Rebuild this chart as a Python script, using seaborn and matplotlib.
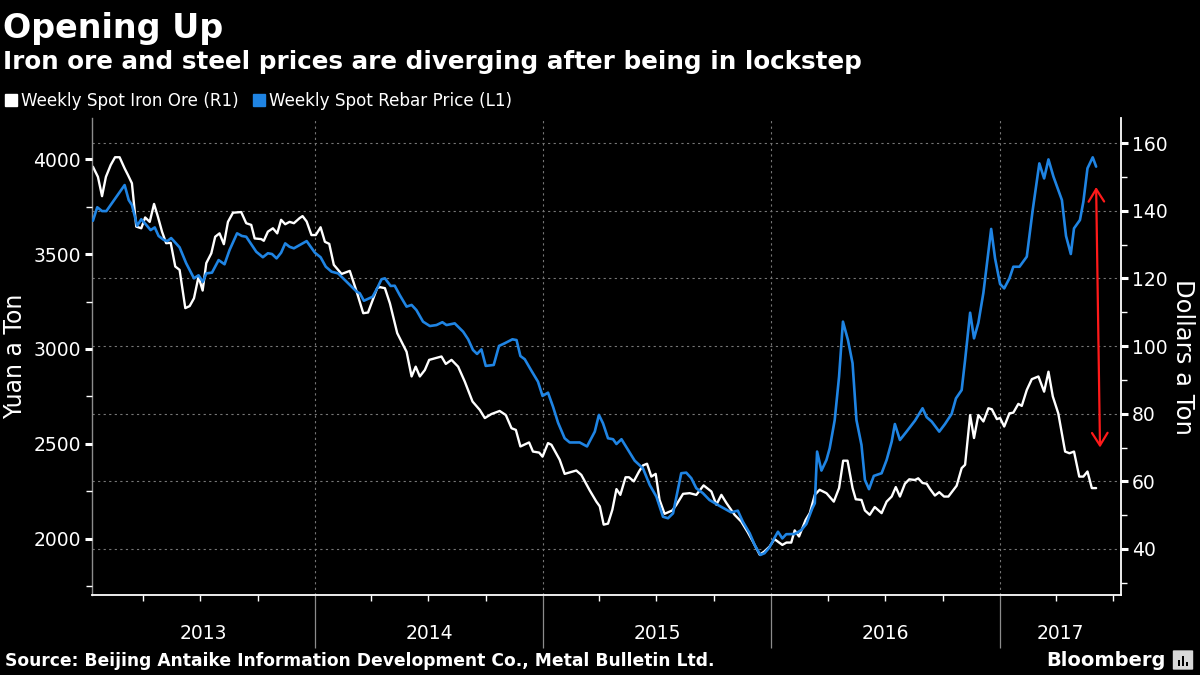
import pandas as pd
import numpy as np
import matplotlib
matplotlib.use('Agg')
import matplotlib.pyplot as plt
import matplotlib.dates as mdates
from matplotlib.lines import Line2D
from matplotlib.patches import FancyBboxPatch, Rectangle
from matplotlib.transforms import blended_transform_factory
import seaborn as sns

# positions
iron_t = [2013.026, 2013.048, 2013.066, 2013.083, 2013.104, 2013.123, 2013.143, 2013.165, 2013.180, 2013.197,
          2013.216, 2013.238, 2013.255, 2013.275, 2013.294, 2013.311, 2013.329, 2013.347, 2013.367, 2013.387,
          2013.406, 2013.431, 2013.450, 2013.469, 2013.489, 2013.507, 2013.523, 2013.545, 2013.562, 2013.581,
          2013.600, 2013.618, 2013.640, 2013.676, 2013.698, 2013.720, 2013.735, 2013.764, 2013.775, 2013.793,
          2013.815, 2013.834, 2013.851, 2013.869, 2013.888, 2013.907, 2013.932, 2013.945, 2013.963, 2013.984,
          2014.003, 2014.024, 2014.043, 2014.062, 2014.082, 2014.116, 2014.152, 2014.182, 2014.211, 2014.232,
          2014.272, 2014.284, 2014.306, 2014.328, 2014.360, 2014.401, 2014.423, 2014.441, 2014.459, 2014.481,
          2014.500, 2014.554, 2014.573, 2014.598, 2014.627, 2014.656, 2014.690, 2014.722, 2014.744, 2014.773,
          2014.809, 2014.836, 2014.861, 2014.880, 2014.900, 2014.938, 2014.955, 2014.982, 2014.997, 2015.021,
          2015.036, 2015.072, 2015.094, 2015.145, 2015.167, 2015.204, 2015.233, 2015.248, 2015.265, 2015.284,
          2015.303, 2015.321, 2015.338, 2015.361, 2015.376, 2015.397, 2015.420, 2015.437, 2015.455, 2015.474,
          2015.493, 2015.510, 2015.532, 2015.566, 2015.584, 2015.613, 2015.642, 2015.671, 2015.703, 2015.737,
          2015.759, 2015.781, 2015.803, 2015.839, 2015.868, 2015.897, 2015.919, 2015.949, 2015.970, 2015.992,
          2016.014, 2016.048, 2016.066, 2016.087, 2016.102, 2016.121, 2016.150, 2016.168, 2016.190, 2016.211,
          2016.241, 2016.273, 2016.296, 2016.314, 2016.333, 2016.355, 2016.369, 2016.394, 2016.409, 2016.430,
          2016.452, 2016.482, 2016.504, 2016.526, 2016.544, 2016.562, 2016.584, 2016.603, 2016.628, 2016.642,
          2016.661, 2016.679, 2016.693, 2016.715, 2016.734, 2016.755, 2016.774, 2016.810, 2016.832, 2016.847,
          2016.869, 2016.886, 2016.905, 2016.927, 2016.949, 2016.964, 2016.986, 2017.000, 2017.018, 2017.041,
          2017.058, 2017.080, 2017.095, 2017.117, 2017.139, 2017.168, 2017.193, 2017.212, 2017.231, 2017.255,
          2017.285, 2017.304, 2017.324, 2017.347, 2017.365, 2017.383, 2017.402, 2017.421]
iron_usd = [153.0, 150.0, 144.3, 150.0, 153.5, 155.8, 155.8, 152.5, 150.5, 148.1,
            135.3, 134.8, 138.0, 136.7, 142.0, 138.2, 133.8, 130.4, 130.5, 123.5,
            122.5, 111.2, 111.8, 114.1, 120.5, 116.4, 124.5, 127.4, 132.3, 133.3,
            130.1, 136.7, 139.4, 139.6, 136.3, 135.8, 131.8, 131.6, 131.1, 133.8,
            134.8, 133.3, 137.3, 136.0, 136.7, 136.3, 137.8, 138.4, 136.8, 132.8,
            132.8, 135.1, 130.8, 130.2, 124.0, 121.3, 122.2, 116.1, 109.7, 109.9,
            117.1, 117.4, 117.1, 112.6, 103.8, 98.3, 91.0, 93.9, 91.0, 92.9,
            95.9, 96.9, 94.7, 95.9, 93.9, 89.5, 83.6, 81.1, 78.7, 79.9,
            80.8, 79.6, 75.7, 75.2, 70.3, 71.5, 68.8, 68.5, 67.3, 71.3,
            70.8, 66.4, 62.2, 63.2, 61.9, 57.3, 54.0, 52.6, 47.2, 47.5,
            51.6, 57.7, 56.0, 61.2, 61.2, 60.0, 62.9, 64.7, 65.2, 61.4,
            62.2, 54.5, 50.4, 51.4, 53.1, 56.3, 56.5, 56.0, 58.8, 57.0,
            53.1, 56.0, 53.6, 50.1, 48.1, 44.9, 42.2, 38.3, 39.3, 40.7,
            42.9, 41.2, 41.9, 41.9, 45.5, 43.7, 48.6, 50.6, 56.0, 57.5,
            56.5, 54.0, 58.0, 66.1, 66.1, 58.0, 54.7, 54.5, 51.4, 50.1,
            52.4, 50.6, 54.0, 55.5, 58.3, 55.5, 59.3, 60.6, 60.4, 60.9,
            59.5, 59.3, 57.8, 55.8, 56.8, 55.5, 55.5, 58.7, 63.9, 64.9,
            79.6, 72.8, 79.6, 77.7, 81.6, 81.3, 78.4, 78.7, 76.2, 80.1,
            80.3, 82.9, 82.3, 87.0, 90.2, 91.0, 86.5, 92.4, 85.1, 80.1,
            68.8, 68.3, 68.8, 61.4, 61.4, 62.9, 58.0, 58.0]

rebar_t = [2013.026, 2013.045, 2013.066, 2013.085, 2013.165, 2013.183, 2013.197, 2013.220, 2013.238, 2013.260,
           2013.279, 2013.297, 2013.314, 2013.337, 2013.352, 2013.369, 2013.387, 2013.406, 2013.435, 2013.469,
           2013.489, 2013.508, 2013.523, 2013.548, 2013.577, 2013.603, 2013.625, 2013.658, 2013.679, 2013.698,
           2013.742, 2013.771, 2013.793, 2013.811, 2013.831, 2013.851, 2013.869, 2013.888, 2013.907, 2013.963,
           2013.999, 2014.024, 2014.047, 2014.072, 2014.101, 2014.145, 2014.182, 2014.196, 2014.214, 2014.252,
           2014.272, 2014.291, 2014.306, 2014.331, 2014.349, 2014.371, 2014.401, 2014.423, 2014.444, 2014.473,
           2014.503, 2014.532, 2014.558, 2014.576, 2014.612, 2014.649, 2014.671, 2014.692, 2014.710, 2014.729,
           2014.748, 2014.783, 2014.806, 2014.831, 2014.865, 2014.883, 2014.900, 2014.919, 2014.948, 2014.977,
           2014.997, 2015.021, 2015.043, 2015.065, 2015.094, 2015.116, 2015.160, 2015.192, 2015.226, 2015.244,
           2015.262, 2015.284, 2015.306, 2015.321, 2015.343, 2015.372, 2015.401, 2015.437, 2015.467, 2015.496,
           2015.525, 2015.547, 2015.569, 2015.605, 2015.627, 2015.649, 2015.671, 2015.700, 2015.729, 2015.773,
           2015.824, 2015.853, 2015.875, 2015.905, 2015.927, 2015.952, 2015.970, 2015.992, 2016.010, 2016.029,
           2016.048, 2016.065, 2016.102, 2016.131, 2016.153, 2016.179, 2016.190, 2016.200, 2016.219, 2016.241,
           2016.255, 2016.277, 2016.296, 2016.313, 2016.335, 2016.355, 2016.372, 2016.394, 2016.409, 2016.427,
           2016.448, 2016.482, 2016.504, 2016.526, 2016.540, 2016.562, 2016.591, 2016.628, 2016.661, 2016.679,
           2016.701, 2016.734, 2016.759, 2016.788, 2016.807, 2016.832, 2016.847, 2016.869, 2016.886, 2016.905,
           2016.927, 2016.961, 2016.978, 2017.000, 2017.018, 2017.041, 2017.058, 2017.085, 2017.117, 2017.143,
           2017.172, 2017.193, 2017.212, 2017.234, 2017.271, 2017.289, 2017.310, 2017.324, 2017.350, 2017.365,
           2017.383, 2017.406, 2017.421]
rebar_cny = [3675, 3746, 3726, 3726, 3863, 3784, 3758, 3649, 3683, 3653,
             3626, 3640, 3595, 3574, 3568, 3584, 3560, 3535, 3451, 3372,
             3388, 3354, 3398, 3402, 3468, 3446, 3521, 3609, 3595, 3591,
             3512, 3483, 3504, 3500, 3477, 3507, 3556, 3538, 3530, 3568,
             3507, 3483, 3433, 3407, 3398, 3346, 3302, 3293, 3254, 3275,
             3319, 3367, 3372, 3332, 3333, 3284, 3223, 3232, 3205, 3144,
             3121, 3126, 3141, 3126, 3135, 3091, 3051, 2995, 2974, 2998,
             2911, 2916, 3016, 3030, 3051, 3047, 2963, 2946, 2886, 2828,
             2753, 2770, 2696, 2612, 2530, 2508, 2508, 2487, 2565, 2653,
             2609, 2530, 2525, 2500, 2525, 2468, 2412, 2372, 2284, 2223,
             2117, 2109, 2135, 2346, 2349, 2320, 2267, 2241, 2205, 2174,
             2140, 2149, 2091, 2030, 1968, 1916, 1925, 1956, 1998, 2038,
             2003, 2025, 2026, 2047, 2079, 2161, 2188, 2460, 2360, 2416,
             2477, 2626, 2854, 3144, 3047, 2925, 2626, 2495, 2311, 2262,
             2332, 2346, 2416, 2512, 2605, 2521, 2565, 2623, 2688, 2641,
             2618, 2565, 2605, 2658, 2740, 2784, 2942, 3191, 3056, 3138,
             3296, 3632, 3477, 3342, 3319, 3372, 3433, 3433, 3486, 3732,
             3977, 3898, 3998, 3907, 3784, 3595, 3500, 3635, 3679, 3775,
             3951, 4009, 3960]

years = [2013, 2014, 2015, 2016, 2017]
left_ticks = [2000, 2500, 3000, 3500, 4000]
right_ticks = [40, 60, 80, 100, 120, 140, 160]

# red double arrow marking the gap at the end (decimal year, $/t)
arrow_top = (2017.421, 147)
arrow_bottom = (2017.438, 70)

BLUE = '#1f84e3'
GRID = '#767676'


def to_date(t):
    y = int(t)
    start = pd.Timestamp(year=y, month=1, day=1)
    end = pd.Timestamp(year=y + 1, month=1, day=1)
    return start + (end - start) * (t - y)


iron = pd.DataFrame({'date': [to_date(t) for t in iron_t], 'usd': iron_usd})
rebar = pd.DataFrame({'date': [to_date(t) for t in rebar_t], 'cny': rebar_cny})

sns.set_theme(style='dark', rc={'axes.facecolor': 'black', 'figure.facecolor': 'black',
                                'text.color': 'white', 'xtick.color': 'white', 'ytick.color': 'white',
                                'axes.labelcolor': 'white'})
plt.rcParams['font.family'] = ['DejaVu Sans']

fig = plt.figure(figsize=(12, 6.75), dpi=100)
ax = fig.add_axes([92 / 1200, 1 - 595 / 675, (1121 - 92) / 1200, (595 - 118) / 675])
ax2 = ax.twinx()

# iron ore in dollars on the main axes (right side), rebar in yuan on the twin (left side)
sns.lineplot(data=iron, x='date', y='usd', ax=ax, color='white', lw=1.7, estimator=None)
sns.lineplot(data=rebar, x='date', y='cny', ax=ax2, color=BLUE, lw=1.9, estimator=None)

xlo, xhi = to_date(2013.022), to_date(2017.530)
ax.set_xlim(xlo, xhi)
ax.set_ylim(26.4, 167.4)
ax2.set_ylim(1705, 4216)

ax.yaxis.tick_right()
ax2.yaxis.tick_left()
ax.set_xlabel('')
ax.set_ylabel('')
ax2.set_ylabel('')

ax.set_yticks(right_ticks)
ax.set_yticks(np.arange(30, 160, 20), minor=True)
ax2.set_yticks(left_ticks)
ax2.set_yticks(np.arange(1750, 4000, 500), minor=True)
ax.tick_params(axis='y', which='major', length=5, width=2.2, pad=3, labelsize=13.5, colors='white')
ax.tick_params(axis='y', which='minor', length=4, width=1, colors='white')
ax2.tick_params(axis='y', which='major', length=5, width=2.2, pad=3, labelsize=13.5, colors='white')
ax2.tick_params(axis='y', which='minor', length=4, width=1, colors='white')

ax.set_xticks([to_date(y) for y in years[1:]])
ax.xaxis.set_minor_locator(mdates.MonthLocator(bymonth=[4, 7, 10]))
ax.tick_params(axis='x', which='both', bottom=True, direction='out')
ax.tick_params(axis='x', which='major', length=38, width=0.9, color='#8c8c8c', labelbottom=False)
ax.tick_params(axis='x', which='minor', length=4, width=1, color='white')

ax.grid(True, axis='y', which='major', linestyle=(0, (2, 3)), color=GRID, lw=0.8)
ax.grid(True, axis='x', which='major', linestyle=(0, (2, 3)), color=GRID, lw=0.8)

for s in ax2.spines.values():
    s.set_visible(False)
ax.spines['top'].set_visible(False)
ax.spines['left'].set_color('#8c8c8c')
ax.spines['left'].set_linewidth(1)
ax.spines['bottom'].set_color('white')
ax.spines['bottom'].set_linewidth(1.3)
ax.spines['right'].set_color('white')
ax.spines['right'].set_linewidth(1.3)

# year labels centred on the visible part of each year
trans = blended_transform_factory(ax.transData, ax.transAxes)
for y in years:
    lo = max(to_date(y), xlo)
    hi = min(to_date(y + 1), xhi)
    mid = lo + (hi - lo) / 2
    ax.text(mdates.date2num(mid), -0.08, str(y), transform=trans, ha='center', va='center',
            fontsize=13.5, color='white')

ax.annotate('', xy=(mdates.date2num(to_date(arrow_top[0])), arrow_top[1]),
            xytext=(mdates.date2num(to_date(arrow_bottom[0])), arrow_bottom[1]),
            arrowprops=dict(arrowstyle='<->,head_length=0.45,head_width=0.28', color='#ff1a1a',
                            lw=1.6, mutation_scale=20, shrinkA=0, shrinkB=0))

fig.text(15 / 1200, 1 - 356 / 675, 'Yuan a Ton', rotation=90, ha='center', va='center',
         fontsize=17, color='white')
fig.text(1183 / 1200, 1 - 357 / 675, 'Dollars a Ton', rotation=270, ha='center', va='center',
         fontsize=17.5, color='white')

fig.text(3 / 1200, 1 - 38 / 675, 'Opening Up', fontsize=24, fontweight='bold', va='baseline')
fig.text(3 / 1200, 1 - 69 / 675, 'Iron ore and steel prices are diverging after being in lockstep',
         fontsize=17.7, fontweight='bold', va='baseline')

handles = [Line2D([], [], marker='s', ls='', color='white', markersize=8.5, label='Weekly Spot Iron Ore (R1)'),
           Line2D([], [], marker='s', ls='', color=BLUE, markersize=8.5, label='Weekly Spot Rebar Price (L1)')]
leg = fig.legend(handles=handles, loc='center left', bbox_to_anchor=(6 / 1200, 1 - 101 / 675), ncol=2,
                 frameon=False, handlelength=0.6, handletextpad=0.3, columnspacing=0.9, fontsize=12.1,
                 borderaxespad=0, borderpad=0)
for t in leg.get_texts():
    t.set_color('white')

fig.text(5 / 1200, 1 - 661 / 675, 'Source: Beijing Antaike Information Development Co., Metal Bulletin Ltd.',
         fontsize=12.3, fontweight='bold', va='center')
fig.text(1166 / 1200, 1 - 660 / 675, 'Bloomberg', fontsize=14, fontweight='bold', ha='right', va='center')
fig.patches.append(FancyBboxPatch((1174 / 1200, 1 - 669 / 675), 18 / 1200, 18 / 675,
                                  boxstyle='round,pad=0.001', transform=fig.transFigure,
                                  facecolor='#d9d9d9', edgecolor='none', figure=fig))
for i, h in enumerate([6, 10, 4]):
    fig.patches.append(Rectangle(((1178 + 4 * i) / 1200, 1 - 666 / 675), 2 / 1200, h / 675,
                                 transform=fig.transFigure, facecolor='black', edgecolor='none', figure=fig))

fig.savefig('out.png', dpi=100, facecolor='black')
